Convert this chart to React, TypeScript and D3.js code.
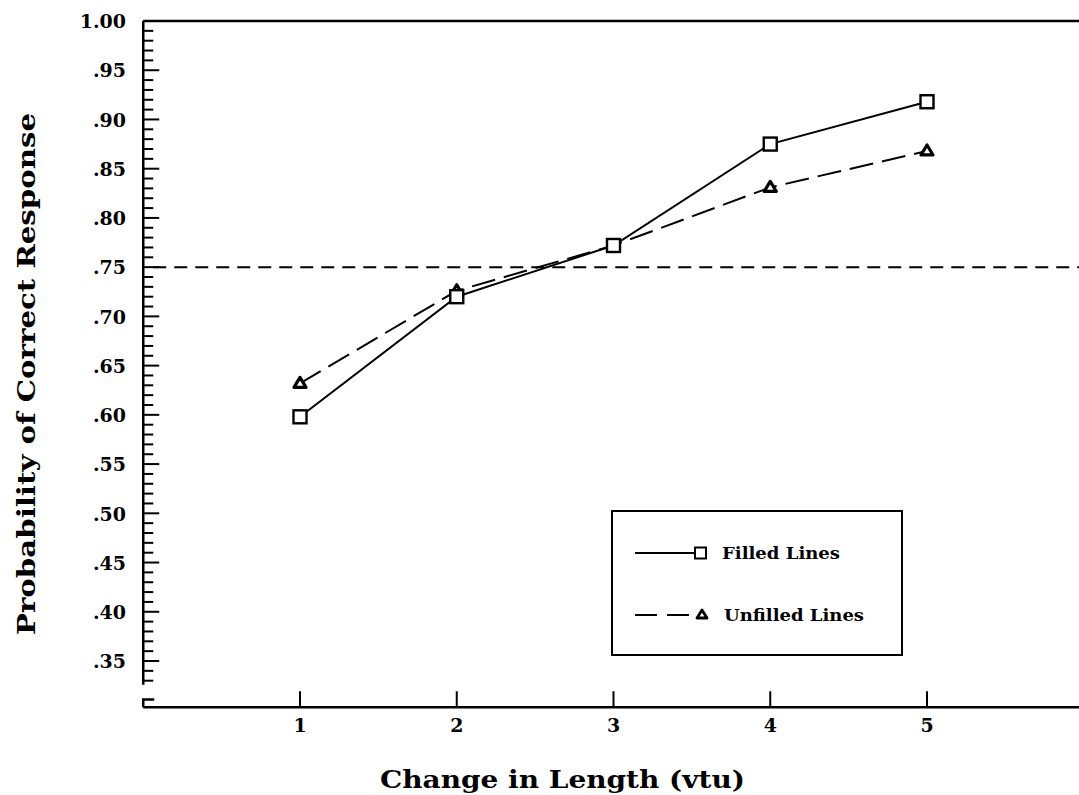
import React, { useEffect, useRef } from 'react';
import * as d3 from 'd3';

// change in length (vtu)
const lengthChanges = [1, 2, 3, 4, 5];
// probability of correct response per condition
const filledLines = [0.598, 0.72, 0.772, 0.875, 0.918];
const unfilledLines = [0.632, 0.726, 0.772, 0.831, 0.868];
const threshold = 0.75;

const yMajorTicks = d3.range(35, 101, 5).map((d) => d / 100);
const yMinorTicks = d3.range(33, 100).filter((d) => d % 5 !== 0).map((d) => d / 100);

const legendItems = [
  { label: 'Filled Lines', marker: 'square', dash: null, width: 118 },
  { label: 'Unfilled Lines', marker: 'triangle', dash: '22,10', width: 140 },
];

const W = 1079;
const H = 795;
const FONT = "'DejaVu Serif', 'Liberation Serif', serif";

const App = () => {
  const ref = useRef<SVGSVGElement | null>(null);

  useEffect(() => {
    if (!ref.current) return;
    const svg = d3.select(ref.current);
    svg.selectAll('*').remove();

    const x = d3.scaleLinear().domain([1, 5]).range([300, 927]);
    const y = d3.scaleLinear().domain([0.35, 1.0]).range([661, 21]);

    const left = x(0);
    const base = y(0.303);

    const g = svg.append('g');

    // top frame line
    g.append('line')
      .attr('x1', left).attr('x2', W)
      .attr('y1', y(1)).attr('y2', y(1))
      .attr('stroke', '#000').attr('stroke-width', 2.5);

    // left axis, broken near the bottom
    g.append('line')
      .attr('x1', left).attr('x2', left)
      .attr('y1', y(1)).attr('y2', y(0.326))
      .attr('stroke', '#000').attr('stroke-width', 2.5);
    g.append('path')
      .attr('d', `M${left + 11},${y(0.311)} H${left} V${base}`)
      .attr('fill', 'none').attr('stroke', '#000').attr('stroke-width', 2.5);

    g.selectAll('.minor')
      .data(yMinorTicks)
      .enter().append('line')
      .attr('x1', left).attr('x2', left + 10)
      .attr('y1', (d) => y(d)).attr('y2', (d) => y(d))
      .attr('stroke', '#000').attr('stroke-width', 2);

    g.selectAll('.major')
      .data(yMajorTicks)
      .enter().append('line')
      .attr('x1', left).attr('x2', left + 16)
      .attr('y1', (d) => y(d)).attr('y2', (d) => y(d))
      .attr('stroke', '#000').attr('stroke-width', 2);

    g.selectAll('.ylab')
      .data(yMajorTicks)
      .enter().append('text')
      .attr('x', 126)
      .attr('y', (d) => y(d))
      .attr('dy', '0.38em')
      .attr('text-anchor', 'end')
      .attr('font-family', FONT)
      .attr('font-weight', 'bold')
      .attr('font-size', 19)
      .text((d) => (d === 1 ? '1.00' : d3.format('.2f')(d).slice(1)));

    // bottom axis
    g.append('line')
      .attr('x1', left).attr('x2', W)
      .attr('y1', base).attr('y2', base)
      .attr('stroke', '#000').attr('stroke-width', 2.5);

    g.selectAll('.xtick')
      .data(lengthChanges)
      .enter().append('line')
      .attr('x1', (d) => x(d)).attr('x2', (d) => x(d))
      .attr('y1', base).attr('y2', base - 16)
      .attr('stroke', '#000').attr('stroke-width', 2);

    g.selectAll('.xlab')
      .data(lengthChanges)
      .enter().append('text')
      .attr('x', (d) => x(d))
      .attr('y', 732)
      .attr('text-anchor', 'middle')
      .attr('font-family', FONT)
      .attr('font-weight', 'bold')
      .attr('font-size', 19)
      .text((d) => d);

    // axis titles
    g.append('text')
      .attr('x', 380).attr('y', 788)
      .attr('font-family', FONT).attr('font-weight', 'bold').attr('font-size', 24)
      .attr('textLength', 365).attr('lengthAdjust', 'spacingAndGlyphs')
      .text('Change in Length (vtu)');

    g.append('text')
      .attr('transform', 'translate(35,374) rotate(-90)')
      .attr('text-anchor', 'middle')
      .attr('font-family', FONT).attr('font-weight', 'bold').attr('font-size', 24)
      .attr('textLength', 522).attr('lengthAdjust', 'spacingAndGlyphs')
      .text('Probability of Correct Response');

    // .75 criterion line
    g.append('line')
      .attr('x1', left + 10).attr('x2', W)
      .attr('y1', y(threshold)).attr('y2', y(threshold))
      .attr('stroke', '#000').attr('stroke-width', 2)
      .attr('stroke-dasharray', '13,8');

    const line = d3.line<number>()
      .x((_, i) => x(lengthChanges[i]))
      .y((d) => y(d));

    g.append('path')
      .datum(unfilledLines)
      .attr('d', line)
      .attr('fill', 'none').attr('stroke', '#000').attr('stroke-width', 2)
      .attr('stroke-dasharray', '24,9');

    g.append('path')
      .datum(filledLines)
      .attr('d', line)
      .attr('fill', 'none').attr('stroke', '#000').attr('stroke-width', 2);

    const sq = 13;
    const drawSquare = (cx: number, cy: number) => {
      g.append('rect')
        .attr('x', cx - sq / 2).attr('y', cy - sq / 2)
        .attr('width', sq).attr('height', sq)
        .attr('fill', '#fff').attr('stroke', '#000').attr('stroke-width', 2.4);
    };
    const drawTriangle = (cx: number, cy: number) => {
      g.append('path')
        .attr('d', `M${cx},${cy - 6} L${cx + 6},${cy + 4} L${cx - 6},${cy + 4} Z`)
        .attr('fill', '#fff').attr('stroke', '#000').attr('stroke-width', 3.2)
        .attr('stroke-linejoin', 'round');
    };

    unfilledLines.forEach((d, i) => drawTriangle(x(lengthChanges[i]), y(d)));
    filledLines.forEach((d, i) => drawSquare(x(lengthChanges[i]), y(d)));

    // legend
    const lg = g.append('g');
    lg.append('rect')
      .attr('x', 612).attr('y', 511).attr('width', 290).attr('height', 144)
      .attr('fill', '#fff').attr('stroke', '#000').attr('stroke-width', 2);

    legendItems.forEach((item, i) => {
      const ly = 553 + i * 62;
      lg.append('line')
        .attr('x1', 635).attr('x2', 695)
        .attr('y1', ly).attr('y2', ly)
        .attr('stroke', '#000').attr('stroke-width', 2)
        .attr('stroke-dasharray', item.dash);
      if (item.marker === 'square') {
        lg.append('rect')
          .attr('x', 695).attr('y', ly - 5.5)
          .attr('width', 11).attr('height', 11)
          .attr('fill', '#fff').attr('stroke', '#000').attr('stroke-width', 2);
      } else {
        lg.append('path')
          .attr('d', `M${702},${ly - 5} L${707},${ly + 3} L${697},${ly + 3} Z`)
          .attr('fill', '#fff').attr('stroke', '#000').attr('stroke-width', 2.8)
          .attr('stroke-linejoin', 'round');
      }
      lg.append('text')
        .attr('x', 722 + i * 2).attr('y', ly)
        .attr('dy', '0.36em')
        .attr('font-family', FONT).attr('font-weight', 'bold').attr('font-size', 16)
        .attr('textLength', item.width).attr('lengthAdjust', 'spacingAndGlyphs')
        .text(item.label);
    });
  }, []);

  return (
    <svg
      ref={ref}
      width={W}
      height={H}
      style={{ position: 'absolute', left: 0, top: 0, background: '#fff' }}
    />
  );
};

export default App;
